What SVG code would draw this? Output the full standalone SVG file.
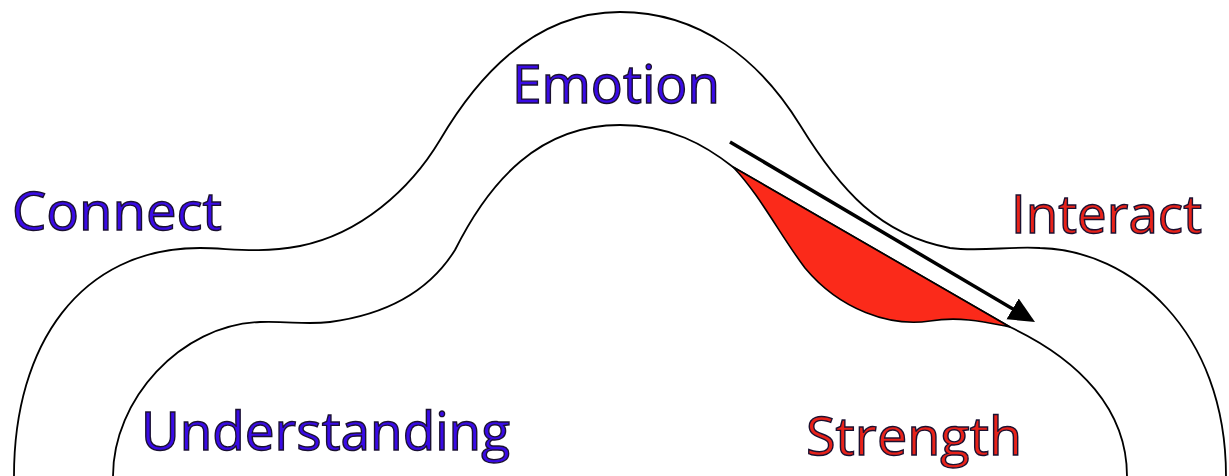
<svg xmlns="http://www.w3.org/2000/svg" width="1229" height="476" viewBox="0 0 1229 476">
  <style>
    .band { fill: none; stroke: #000; stroke-width: 1.8; }
    .lbl { font-family: "Open Sans", "Noto Sans", sans-serif; font-size: 53px; stroke: #1a1030; stroke-width: 1.4; }
    .blue { fill: #3a0be6; }
    .red { fill: #e8221a; }
    .wedge { fill: #fb2a1a; stroke: #000; stroke-width: 1.6; stroke-linejoin: round; }
    .arrow { fill: none; stroke: #000; stroke-width: 3.5; }
  </style>
  <defs>
    <marker id="head" markerUnits="userSpaceOnUse" markerWidth="28" markerHeight="26" refX="8" refY="12" orient="auto">
      <path d="M0,0 L26,12 L0,24 Z" fill="#000"/>
    </marker>
  </defs>
  <rect width="1229" height="476" fill="#fff"/>
  <g id="outer-band">
    <path class="band" d="M14,476 C14,345 80,248 200,248 C230,248 255,254 300,246 C360,234 410,190 440,140 C490,55 550,12 620,12 C700,12 760,60 800,125 C840,190 880,235 950,248 C980,252 1010,246 1040,248 C1130,250 1226,330 1226,476"/>
  </g>
  <g id="inner-band">
    <path class="band" d="M113,476 C113,400 180,325 260,322 C290,321 305,325 330,322 C390,314 430,290 455,250 C490,180 540,125 620,125 C670,125 705,145 733,167 L1010,327 C1080,360 1127,410 1127,476"/>
  </g>
  <g id="red-wedge">
    <path class="wedge" d="M733,167 L1010,327 C985,322 960,316 930,321 C890,327 840,310 805,268 C780,235 760,195 733,167 Z"/>
  </g>
  <g id="connectors">
    <line class="arrow" x1="730" y1="142" x2="1019.5" y2="312.9" marker-end="url(#head)"/>
  </g>
  <g id="node-connect"><text class="lbl blue" x="12" y="230" textLength="210" lengthAdjust="spacingAndGlyphs">Connect</text></g>
  <g id="node-emotion"><text class="lbl blue" x="512" y="103" textLength="208" lengthAdjust="spacingAndGlyphs">Emotion</text></g>
  <g id="node-interact"><text class="lbl red" x="1011" y="233" textLength="191" lengthAdjust="spacingAndGlyphs">Interact</text></g>
  <g id="node-understanding"><text class="lbl blue" x="141" y="450" textLength="369" lengthAdjust="spacingAndGlyphs">Understanding</text></g>
  <g id="node-strength"><text class="lbl red" x="806" y="455" textLength="216" lengthAdjust="spacingAndGlyphs">Strength</text></g>
</svg>
